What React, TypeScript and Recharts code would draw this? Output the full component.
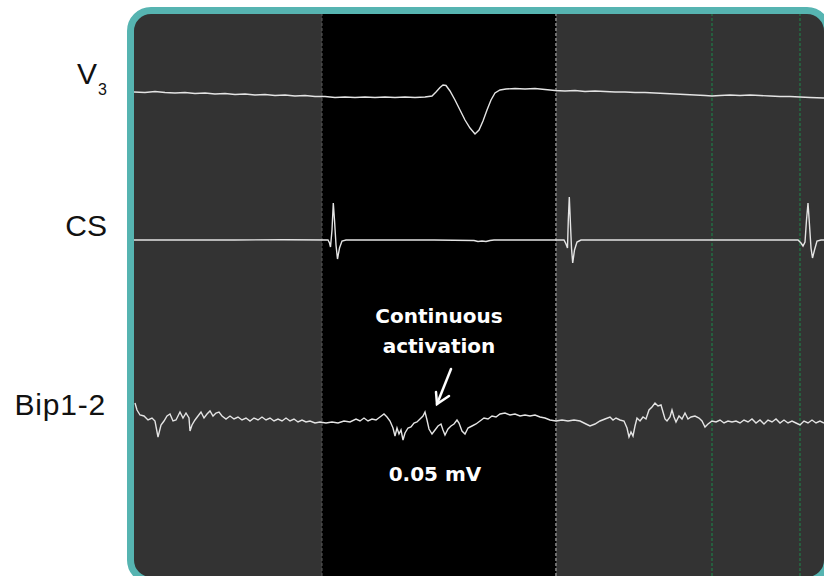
import { LineChart, Line, XAxis, YAxis, ReferenceArea, ReferenceLine } from 'recharts'

// channel names, top to bottom
const channels = ['V3', 'CS', 'Bip1-2']

// time in ms across the window, amplitude in display units (up = positive)
const v3Samples: [number, number][] = [
  [0, 0], [11, -0.5], [21, 0.5], [31, -0.5], [41, -1], [51, -0.5], [61, -1.5], [71, -1],
  [81, -2], [91, -1.5], [101, -2.5], [111, -2], [121, -3], [131, -2.5], [141, -3.5], [151, -3],
  [161, -4], [171, -3.5], [181, -4.5], [191, -4.5], [201, -5.5], [211, -5], [221, -5.5], [231, -5],
  [241, -5.5], [251, -5], [261, -5.5], [271, -5], [281, -5.5], [291, -5], [298, -4], [302, 0],
  [306, 4.5], [309, 7], [312, 6.5], [316, 1], [321, -8], [326, -18], [331, -28], [336, -36],
  [341, -42], [345, -38], [349, -29], [353, -18], [357, -8], [361, -1], [366, 2], [372, 3],
  [381, 3.5], [391, 3], [401, 3.5], [411, 2.5], [421, 1.5], [431, 1], [441, 1.5], [451, 0.5],
  [461, 1], [471, 0.5], [481, 0], [491, 0], [501, -0.5], [511, -0.5], [521, -1], [531, -1.5],
  [541, -2], [551, -2.5], [561, -3], [571, -3.5], [578, -4], [586, -3.5], [596, -3], [606, -3.5],
  [616, -3], [626, -3.5], [636, -4], [646, -4.5], [656, -4.5], [666, -5], [676, -5.5], [690, -6],
]

const csSamples: [number, number][] = [
  [0, 0], [100, 0], [150, 0.3], [194, 0], [195.5, -3], [196.5, -7], [198, 10], [199.3, 37],
  [200.5, 20], [202, -5], [203.5, -19], [205.5, -8], [208, -1], [212, 0], [300, 0], [340, -0.5],
  [344, -1.5], [348, -1], [352, -1.5], [356, -0.5], [360, 0], [430, 0], [432, -4], [433.5, -8],
  [434.3, 20], [435.3, 43], [436.5, 15], [437.5, -8], [438.7, -23], [440.5, -10], [443, -2],
  [447, 0], [600, 0], [664, 0], [667, -3], [669, -6], [671, -2], [672.5, 20], [674, 37],
  [675.5, 15], [677, -8], [678.5, -18], [680.5, -10], [683, -1], [687, 0], [690, 0],
]

const bipSamples: [number, number][] = [
  [1, 17], [3, 10], [6, 5], [10, 4], [14, 0], [18, 2], [21, -1], [24, -17], [27, -5], [30, -1],
  [33, 4], [36, 6], [39, -1], [42, 0], [46, 8], [49, 2], [52, 7], [55, 2], [56, -11], [58, -5],
  [61, 0], [64, 4], [67, 8], [70, 2], [73, 6], [76, 9], [79, 4], [82, 7], [85, 8], [88, 4],
  [92, 1], [96, 4], [100, 1], [104, 3], [108, 0], [112, 2], [116, -1], [120, 2], [124, 0], [128, 3],
  [132, 0], [136, 2], [140, -1], [144, 1], [148, -1], [152, 2], [156, -1], [160, 1], [164, -2],
  [168, 0], [172, -2], [176, -1], [181, -3], [186, -2], [192, -3], [198, -2], [204, -3], [210, -1],
  [216, -2], [222, 1], [226, -1], [230, 2], [234, -1], [238, 1], [242, 0], [246, 3], [250, 6],
  [253, 3], [256, -1], [259, -8], [261, -16], [263, -8], [265, -14], [267, -10], [269, -20],
  [271, -13], [274, -8], [277, -7], [280, -3], [283, -2], [286, 1], [289, 4], [291, 8], [293, 0],
  [295, -9], [298, -14], [301, -10], [304, -6], [307, -4], [309, -10], [311, -15], [314, -9],
  [317, -6], [320, -4], [323, 0], [325, -3], [328, -11], [331, -14], [334, -8], [338, -6],
  [342, -4], [346, -1], [350, 2], [354, 1], [358, 4], [362, 3], [366, 6], [371, 7], [376, 5],
  [381, 6], [386, 4], [391, 5], [396, 4], [401, 5], [406, 3], [411, 2], [416, 0], [422, -1],
  [428, 0], [434, -1], [440, 0], [446, -1], [452, -4], [456, -6], [461, -4], [466, -1], [471, 1],
  [476, 3], [479, 0], [482, 2], [486, 0], [490, -1], [493, -8], [495, -17], [497, -12], [499, -16],
  [501, -6], [503, 2], [506, -1], [509, 3], [512, 1], [515, 10], [518, 13], [521, 17], [524, 14],
  [527, 15], [529, 8], [531, 1], [533, -1], [536, 3], [538, 10], [540, 3], [542, -2], [545, 4],
  [548, 1], [551, 7], [554, 1], [557, 3], [561, 4], [565, 2], [568, -1], [571, -7], [574, -4],
  [578, -1], [582, -2], [586, 0], [590, -3], [594, -1], [598, -2], [602, -1], [606, -3], [610, 0],
  [614, -2], [618, 1], [622, -3], [626, 0], [630, -4], [634, 0], [638, -2], [642, 1], [646, -3],
  [650, 0], [654, -3], [658, -1], [662, -3], [666, -5], [670, -1], [674, -3], [678, 0], [682, -3],
  [686, -1], [690, -3],
]

// window markers (ms)
const activationWindow = [188, 422]
const greenMarkers = [578, 666]

const toRows = (s: [number, number][]) => s.map(([t, v]) => ({ t, v }))

const CHART_W = 690
const CHART_H = 562
const PANEL_TOP = 14
// page y of each channel's baseline
const baselines = [92, 240, 420]
const domainFor = (b: number): [number, number] => [b - (PANEL_TOP + CHART_H), b - PANEL_TOP]

const TRACE = '#e4e4e4'
const font = '"Liberation Sans", Arial, sans-serif'

export default function App() {
  const series = [v3Samples, csSamples, bipSamples]
  return (
    <div style={{ position: 'absolute', left: 0, top: 0, width: 824, height: 576, overflow: 'hidden', background: '#fff' }}>
      <div
        style={{
          position: 'absolute',
          left: 127,
          top: 7,
          width: 704,
          height: 577,
          boxSizing: 'border-box',
          border: '7px solid #56b4b1',
          borderRadius: 24,
          background: '#333333',
          overflow: 'hidden',
        }}
      >
        <LineChart width={CHART_W} height={CHART_H} margin={{ top: 0, right: 0, bottom: 0, left: 0 }}>
          <XAxis dataKey="t" type="number" domain={[0, 690]} hide allowDataOverflow />
          {channels.map((c, i) => (
            <YAxis key={c} yAxisId={c} hide domain={domainFor(baselines[i])} allowDataOverflow />
          ))}
          <ReferenceArea
            yAxisId="V3"
            x1={activationWindow[0]}
            x2={activationWindow[1]}
            fill="#000"
            fillOpacity={1}
            stroke="none"
          />
          <ReferenceLine yAxisId="V3" x={activationWindow[0]} stroke="#5a5a5a" strokeDasharray="3 2" />
          <ReferenceLine yAxisId="V3" x={activationWindow[1]} stroke="#6e6e6e" strokeWidth={2} strokeDasharray="3 2" />
          {greenMarkers.map((m) => (
            <ReferenceLine key={m} yAxisId="V3" x={m} stroke="#1f7d47" strokeWidth={1.2} strokeDasharray="3 2" />
          ))}
          {channels.map((c, i) => (
            <Line
              key={c}
              yAxisId={c}
              data={toRows(series[i])}
              dataKey="v"
              type="linear"
              dot={false}
              stroke={TRACE}
              strokeWidth={1.4}
              isAnimationActive={false}
            />
          ))}
        </LineChart>
      </div>

      <svg width={824} height={576} style={{ position: 'absolute', left: 0, top: 0, pointerEvents: 'none' }}>
        <g fontFamily={font} fill="#111" fontSize={30}>
          <text x={97} y={84} textAnchor="end">V</text>
          <text x={98} y={95} fontSize={16}>3</text>
          <text x={107} y={236} textAnchor="end">CS</text>
          <text x={106} y={415} textAnchor="end" letterSpacing={0.8}>Bip1-2</text>
        </g>
        <g fontFamily='"DejaVu Sans", sans-serif' fill="#fff" fontSize={20} fontWeight="bold" textAnchor="middle">
          <text x={439} y={323}>Continuous</text>
          <text x={439} y={353}>activation</text>
          <text x={435} y={481}>0.05 mV</text>
        </g>
        <g stroke="#fff" strokeWidth={2.5} strokeLinecap="round" fill="none">
          <line x1={451} y1={369} x2={437} y2={404} />
          <polyline points="436,392 437,404 449,396" />
        </g>
      </svg>
    </div>
  )
}
